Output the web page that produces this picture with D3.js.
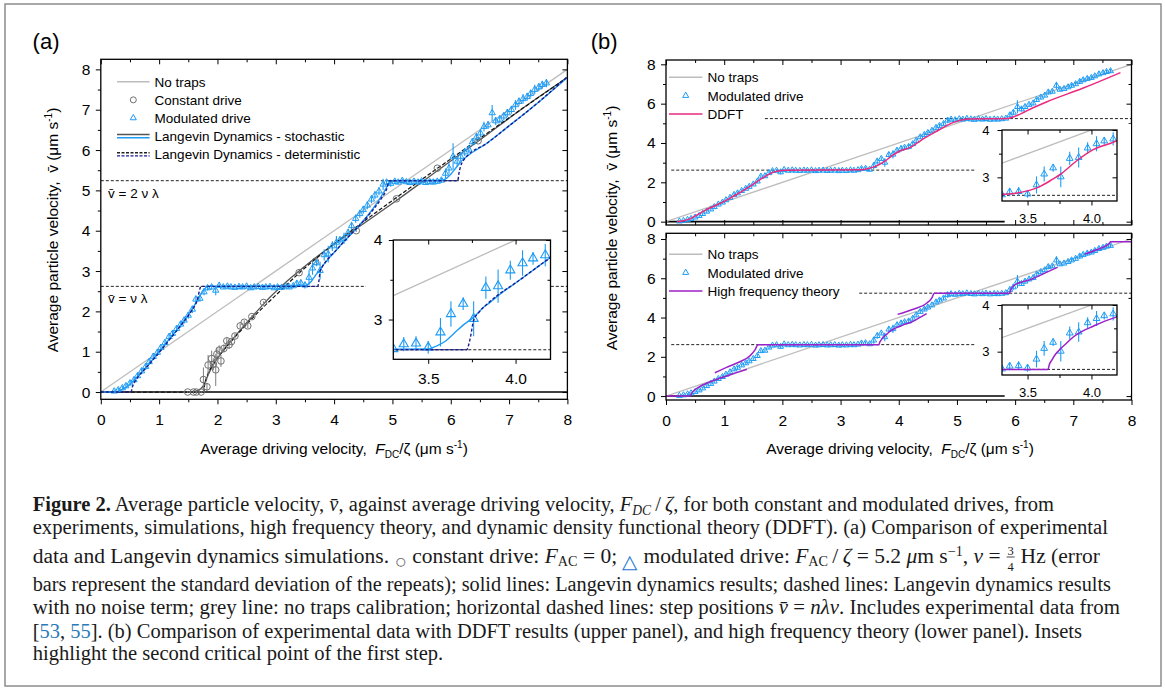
<!DOCTYPE html>
<html>
<head>
<meta charset="utf-8">
<script src="https://cdn.jsdelivr.net/npm/d3@7"></script>
<style>
  html, body { margin: 0; padding: 0; background: #fff; }
  svg { display: block; }
</style>
</head>
<body>
<svg id="fig" width="1165" height="688"></svg>
<script>
// ---- values ----
const ticksX = [0, 1, 2, 3, 4, 5, 6, 7, 8]
const ticksXMinor = [0.5, 1.5, 2.5, 3.5, 4.5, 5.5, 6.5, 7.5]
const ticksYa = [0, 1, 2, 3, 4, 5, 6, 7, 8]
const ticksYaMinor = [0.5, 1.5, 2.5, 3.5, 4.5, 5.5, 6.5, 7.5]
const ticksYb = [0, 2, 4, 6, 8]
const ticksYbMinor = [1, 3, 5, 7]
const insetTicksX = [3.5, 4.0]
const insetTicksXMinor = [3.75]
const insetTicksY = [3, 4]
const insetTicksYMinor = [3.5]

// step positions v = n nu lambda
const stepLevels = [2.62, 5.24]
const stepFromA = [0, 0]
const stepFromUpper = [0.09, 1.70]
const stepFromLower = [0.09, 3.32]
const stepTo = [8, 8]
const zeroToA = 8
const zeroToB = 5.82

// no traps calibration
const noTrapsX = [0, 8]
const noTrapsV = [0, 8]

// constant drive (grey circles)
const constX = [1.49, 1.59, 1.64, 1.72, 1.76, 1.82, 1.84, 1.90, 1.93, 1.97, 1.99, 2.03, 2.06, 2.11, 2.16, 2.20, 2.24, 2.30, 2.39, 2.46, 2.52, 2.59, 2.79, 3.40, 3.68, 4.38, 5.07, 5.77, 6.47]
const constV = [0, 0, 0, 0, 0.31, 0.13, 0.67, 0.83, 0.69, 0.55, 0.94, 1.04, 0.77, 1.08, 1.27, 1.17, 1.25, 1.39, 1.64, 1.73, 1.64, 1.87, 2.22, 2.96, 3.24, 4.00, 4.79, 5.55, 6.23]
const constErr = [0.02, 0.02, 0.02, 0.02, 0.30, 0.10, 0.25, 0.20, 0.15, 0.40, 0.15, 0.12, 0.15, 0.10, 0.08, 0.10, 0.08, 0.06, 0.06, 0.05, 0.06, 0.04, 0.03, 0.03, 0.03, 0.03, 0.03, 0.03, 0.03]

// modulated drive (blue triangles)
const modX = [
  0.23, 0.30, 0.37, 0.43, 0.50, 0.57, 0.63, 0.70, 0.77, 0.83,
  0.90, 0.97, 1.03, 1.10, 1.17, 1.23, 1.30, 1.37, 1.43, 1.50,
  1.57, 1.63, 1.70, 1.77, 1.83, 1.90, 1.97, 2.03, 2.10, 2.17,
  2.23, 2.30, 2.37, 2.43, 2.50, 2.57, 2.63, 2.70, 2.77, 2.83,
  2.90, 2.97, 3.03, 3.10, 3.17, 3.23, 3.30, 3.36, 3.43, 3.50,
  3.57, 3.63, 3.70, 3.76, 3.83, 3.90, 3.97, 4.04, 4.10, 4.17,
  4.24, 4.30, 4.37, 4.44, 4.50, 4.57, 4.64, 4.70, 4.77, 4.84,
  4.90, 4.97, 5.04, 5.10, 5.17, 5.24, 5.30, 5.37, 5.44, 5.50,
  5.57, 5.64, 5.70, 5.77, 5.84, 5.91, 5.97, 6.04, 6.11, 6.17,
  6.24, 6.31, 6.37, 6.44, 6.51, 6.57, 6.64, 6.71, 6.77, 6.84,
  6.91, 6.97, 7.04, 7.11, 7.17, 7.24, 7.31, 7.37, 7.44, 7.51,
  7.57, 7.64]
const modV = [
  0.02, 0.05, 0.10, 0.15, 0.22, 0.30, 0.40, 0.52, 0.63, 0.75,
  0.88, 0.98, 1.10, 1.22, 1.37, 1.45, 1.57, 1.68, 1.78, 1.90,
  2.05, 2.30, 2.32, 2.48, 2.58, 2.60, 2.52, 2.64, 2.60, 2.62,
  2.60, 2.59, 2.61, 2.60, 2.62, 2.58, 2.60, 2.61, 2.59, 2.60,
  2.61, 2.58, 2.60, 2.59, 2.62, 2.60, 2.63, 2.69, 2.70, 2.65,
  2.84, 3.07, 3.20, 3.01, 3.40, 3.42, 3.62, 3.71, 3.77, 3.81,
  3.95, 4.12, 4.30, 4.42, 4.52, 4.63, 4.78, 4.88, 4.98, 5.15,
  5.20, 5.17, 5.22, 5.20, 5.24, 5.21, 5.19, 5.22, 5.20, 5.23,
  5.19, 5.21, 5.20, 5.22, 5.25, 5.42, 5.55, 5.84, 5.72, 5.84,
  5.95, 6.02, 6.20, 6.32, 6.42, 6.58, 6.62, 6.92, 6.72, 6.76,
  6.84, 6.92, 7.00, 7.12, 7.20, 7.27, 7.32, 7.40, 7.50, 7.56,
  7.62, 7.66]
const modErr = [
  0.04, 0.05, 0.05, 0.06, 0.06, 0.07, 0.07, 0.08, 0.08, 0.08,
  0.08, 0.08, 0.08, 0.08, 0.09, 0.08, 0.08, 0.08, 0.08, 0.08,
  0.09, 0.09, 0.08, 0.08, 0.06, 0.06, 0.12, 0.05, 0.04, 0.04,
  0.04, 0.04, 0.04, 0.04, 0.04, 0.04, 0.04, 0.04, 0.04, 0.04,
  0.04, 0.04, 0.04, 0.04, 0.04, 0.04, 0.05, 0.09, 0.09, 0.08,
  0.18, 0.16, 0.08, 0.22, 0.14, 0.21, 0.12, 0.16, 0.08, 0.14,
  0.10, 0.10, 0.10, 0.10, 0.10, 0.10, 0.10, 0.10, 0.10, 0.14,
  0.06, 0.08, 0.05, 0.05, 0.05, 0.05, 0.05, 0.05, 0.05, 0.05,
  0.05, 0.05, 0.05, 0.05, 0.06, 0.12, 0.14, 0.33, 0.12, 0.12,
  0.10, 0.10, 0.10, 0.10, 0.10, 0.12, 0.10, 0.20, 0.10, 0.10,
  0.10, 0.10, 0.10, 0.12, 0.10, 0.12, 0.10, 0.10, 0.12, 0.10,
  0.10, 0.10]

// Langevin dynamics, constant drive
const ldConstX = [0, 1.50, 1.61, 1.68, 1.72, 1.76, 1.80, 1.84, 1.88, 1.94, 2.00, 2.08, 2.17, 2.30, 2.46, 2.60, 2.74, 2.90, 3.08, 3.25, 3.43, 3.70, 4.00, 4.40, 5.10, 5.80, 6.50, 7.20, 8.00]
const ldConstV = [0, 0, 0.02, 0.05, 0.09, 0.16, 0.28, 0.42, 0.55, 0.70, 0.84, 0.99, 1.16, 1.38, 1.65, 1.88, 2.10, 2.35, 2.60, 2.82, 3.04, 3.35, 3.67, 4.07, 4.78, 5.52, 6.25, 7.00, 7.80]
const detConstX = [0, 1.77, 1.78, 1.80, 1.83, 1.87, 1.92, 2.00, 2.10, 2.25, 2.45, 2.70, 3.00, 3.40, 4.00, 5.00, 6.00, 7.00, 8.00]
const detConstV = [0, 0, 0.18, 0.30, 0.43, 0.55, 0.68, 0.85, 1.03, 1.28, 1.60, 1.98, 2.40, 2.95, 3.67, 4.75, 5.78, 6.80, 7.80]

// Langevin dynamics, modulated drive
const ldModX = [0, 0.25, 0.32, 0.40, 0.48, 0.56, 0.65, 0.80, 1.00, 1.20, 1.40, 1.55, 1.65, 1.72, 1.78, 1.85, 3.50, 3.55, 3.60, 3.65, 3.70, 3.76, 3.82, 3.85, 3.90, 4.00, 4.10, 4.20, 4.40, 4.60, 4.75, 4.85, 4.92, 4.98, 5.05, 5.85, 5.92, 6.00, 6.10, 6.20, 6.30, 6.60, 7.00, 7.50, 8.00]
const ldModV = [0, 0, 0.03, 0.09, 0.17, 0.28, 0.42, 0.65, 1.00, 1.36, 1.72, 2.02, 2.26, 2.44, 2.56, 2.62, 2.63, 2.67, 2.73, 2.83, 2.93, 3.03, 3.16, 3.21, 3.30, 3.46, 3.62, 3.78, 4.08, 4.42, 4.72, 4.95, 5.12, 5.21, 5.24, 5.25, 5.29, 5.40, 5.58, 5.75, 5.87, 6.15, 6.60, 7.18, 7.80]
const detModX = [0, 0.52, 0.54, 0.57, 0.62, 0.70, 0.80, 1.00, 1.20, 1.40, 1.55, 1.65, 1.72, 3.72, 3.74, 3.76, 3.79, 3.84, 3.90, 4.00, 4.10, 4.20, 4.40, 4.60, 4.80, 4.90, 4.95, 6.12, 6.14, 6.17, 6.22, 6.30, 6.60, 7.00, 7.50, 8.00]
const detModV = [0, 0, 0.12, 0.22, 0.34, 0.48, 0.64, 0.98, 1.34, 1.70, 2.00, 2.26, 2.62, 2.62, 2.76, 2.99, 3.09, 3.20, 3.31, 3.46, 3.62, 3.78, 4.08, 4.40, 4.78, 5.03, 5.24, 5.24, 5.42, 5.60, 5.75, 5.88, 6.15, 6.60, 7.18, 7.82]

// DDFT
const ddftX = [0.19, 0.30, 0.43, 0.55, 0.68, 0.85, 0.99, 1.15, 1.30, 1.45, 1.61, 1.75, 1.85, 1.95, 2.05, 3.30, 3.42, 3.60, 3.69, 3.77, 3.88, 4.01, 4.21, 4.39, 4.69, 4.90, 5.00, 5.10, 5.19, 5.87, 6.05, 6.30, 6.55, 7.16, 7.81]
const ddftV = [0, 0.05, 0.17, 0.37, 0.59, 0.82, 1.02, 1.28, 1.53, 1.81, 2.12, 2.38, 2.52, 2.59, 2.62, 2.64, 2.67, 2.81, 2.95, 3.09, 3.34, 3.58, 3.79, 4.15, 4.66, 5.00, 5.10, 5.18, 5.22, 5.25, 5.42, 5.78, 6.10, 6.78, 7.58]

// high frequency theory, four branches
const hfAX = [0, 0.41, 0.44, 0.48, 0.53, 0.62, 0.76, 0.90, 1.04, 1.20, 1.39]
const hfAV = [0, 0, 0.14, 0.28, 0.39, 0.55, 0.73, 0.88, 1.02, 1.18, 1.36]
const hfBX = [0.84, 1.04, 1.27, 1.44, 1.53, 1.58, 3.66, 3.67, 3.69, 3.72, 3.75, 3.80, 3.86, 3.93, 4.01, 4.10, 4.21, 4.35, 4.48]
const hfBV = [1.19, 1.46, 1.75, 2.04, 2.35, 2.62, 2.62, 2.72, 2.82, 2.95, 3.04, 3.17, 3.32, 3.44, 3.54, 3.65, 3.76, 3.98, 4.20]
const hfCX = [3.98, 4.25, 4.48, 4.57, 4.61, 5.90, 5.93, 5.99, 6.10, 6.24, 6.50, 6.73]
const hfCV = [4.16, 4.42, 4.73, 5.00, 5.24, 5.24, 5.45, 5.65, 5.80, 5.91, 6.25, 6.56]
const hfDX = [7.20, 7.40, 7.58, 7.62, 7.64, 8.00]
const hfDV = [7.23, 7.45, 7.69, 7.78, 7.86, 7.86]

// ---- layout and style ----
const FONT = '"Liberation Sans", Arial, Helvetica, sans-serif'
const SERIF = '"Liberation Serif", "Times New Roman", serif'
const BLUE = '#1e9cf5'
const NAVY = '#1b1b8f'
const GREY = '#bdbdbd'
const PINK = '#ea2a7f'
const PURPLE = '#9b21c9'
const CIRCLE = '#707070'

const boxA = { left: 100.8, right: 567.4, top: 59.3, bottom: 399.3 }
const boxUpper = { left: 666, right: 1131.5, top: 60, bottom: 225 }
const boxLower = { left: 666, right: 1131.5, top: 233.3, bottom: 400 }
const boxInsetA = { left: 393.3, right: 550.5, top: 240, bottom: 359.3 }
const boxInsetUpper = { left: 1002, right: 1117, top: 130, bottom: 201 }
const boxInsetLower = { left: 1002, right: 1117, top: 305, bottom: 375 }

const svg = d3.select('#fig')
const defs = svg.append('defs')

function makeScales(box, xDomain, yDomain) {
  return {
    x: d3.scaleLinear().domain(xDomain).range([box.left, box.right]),
    y: d3.scaleLinear().domain(yDomain).range([box.bottom, box.top])
  }
}

function clipped(g, id, box) {
  defs.append('clipPath').attr('id', id).append('rect')
    .attr('x', box.left).attr('y', box.top)
    .attr('width', box.right - box.left).attr('height', box.bottom - box.top)
  return g.append('g').attr('clip-path', 'url(#' + id + ')')
}

function drawCurve(g, sc, xs, vs, color, width, dash) {
  g.append('path')
    .datum(d3.zip(xs, vs))
    .attr('d', d3.line().curve(d3.curveMonotoneX).x(d => sc.x(d[0])).y(d => sc.y(d[1])))
    .attr('fill', 'none')
    .attr('stroke', color)
    .attr('stroke-width', width)
    .attr('stroke-dasharray', dash || null)
}

function drawSteps(g, sc, from, to, levels) {
  g.selectAll('.step')
    .data(levels)
    .join('line')
    .attr('class', 'step')
    .attr('x1', (d, i) => sc.x(from[i]))
    .attr('x2', (d, i) => sc.x(to[i]))
    .attr('y1', d => sc.y(d))
    .attr('y2', d => sc.y(d))
    .attr('stroke', '#222')
    .attr('stroke-width', 1)
    .attr('stroke-dasharray', '3,2')
}

function drawZero(g, sc, xEnd) {
  g.append('line')
    .attr('x1', sc.x(0)).attr('x2', sc.x(xEnd))
    .attr('y1', sc.y(0)).attr('y2', sc.y(0))
    .attr('stroke', '#000')
    .attr('stroke-width', 1.6)
}

function drawErrorBars(g, sc, pts, color) {
  g.selectAll('.err')
    .data(pts)
    .join('line')
    .attr('class', 'err')
    .attr('x1', d => sc.x(d[0])).attr('x2', d => sc.x(d[0]))
    .attr('y1', d => sc.y(d[1] - d[2])).attr('y2', d => sc.y(d[1] + d[2]))
    .attr('stroke', color)
    .attr('stroke-width', 1.1)
}

function drawTriangles(g, sc, size) {
  const pts = d3.zip(modX, modV, modErr)
  const grp = g.append('g').attr('class', 'modulated')
  drawErrorBars(grp, sc, pts, BLUE)
  grp.selectAll('.tri')
    .data(pts)
    .join('path')
    .attr('class', 'tri')
    .attr('d', d3.symbol(d3.symbolTriangle, size))
    .attr('transform', d => `translate(${sc.x(d[0])},${sc.y(d[1])})`)
    .attr('fill', 'none')
    .attr('stroke', BLUE)
    .attr('stroke-width', 1)
}

function drawCircles(g, sc, r) {
  const pts = d3.zip(constX, constV, constErr)
  const grp = g.append('g').attr('class', 'constant')
  drawErrorBars(grp, sc, pts, '#8a8a8a')
  grp.selectAll('.dot')
    .data(pts)
    .join('circle')
    .attr('class', 'dot')
    .attr('cx', d => sc.x(d[0]))
    .attr('cy', d => sc.y(d[1]))
    .attr('r', r)
    .attr('fill', 'none')
    .attr('stroke', CIRCLE)
    .attr('stroke-width', 1)
}

function drawAxes(g, sc, box, o) {
  const a = g.append('g').attr('class', 'axes')
  const put = (gen, tr, vals, size, fmt, pad) => {
    const ax = a.append('g').attr('transform', tr)
      .call(gen.tickValues(vals).tickSize(size).tickPadding(pad || 3).tickFormat(fmt || (() => '')))
    ax.attr('font-size', o.fontSize).attr('font-family', FONT)
    ax.select('.domain').remove()
    ax.selectAll('.tick line').attr('stroke', '#000').attr('stroke-width', 1)
    ax.selectAll('.tick text').attr('fill', '#000')
  }
  const bottom = `translate(0,${box.bottom})`
  const top = `translate(0,${box.top})`
  const left = `translate(${box.left},0)`
  const right = `translate(${box.right},0)`
  const dir = o.bottomIn ? -1 : 1
  put(d3.axisBottom(sc.x), bottom, o.xMajor, dir * o.major, o.xFmt, o.xPad)
  put(d3.axisBottom(sc.x), bottom, o.xMinor, dir * o.minor)
  put(d3.axisBottom(sc.x), top, o.xMajor, o.major)
  put(d3.axisBottom(sc.x), top, o.xMinor, o.minor)
  put(d3.axisLeft(sc.y), left, o.yMajor, o.major, o.yFmt, o.yPad)
  put(d3.axisLeft(sc.y), left, o.yMinor, o.minor)
  put(d3.axisLeft(sc.y), right, o.yMajor, o.major)
  put(d3.axisLeft(sc.y), right, o.yMinor, o.minor)
  a.append('rect')
    .attr('x', box.left).attr('y', box.top)
    .attr('width', box.right - box.left).attr('height', box.bottom - box.top)
    .attr('fill', 'none').attr('stroke', '#000').attr('stroke-width', 1.3)
}

function drawLegend(g, items, x0, y0, rowH, textOffset) {
  const lg = g.append('g').attr('class', 'legend').attr('font-family', FONT).attr('font-size', 13.5)
  items.forEach((it, i) => {
    const row = lg.append('g').attr('transform', `translate(${x0},${y0 + i * rowH})`)
    const w = textOffset - 5
    if (it.kind === 'line') {
      row.append('line').attr('x1', 0).attr('x2', w).attr('stroke', it.color).attr('stroke-width', 1.5)
    } else if (it.kind === 'pair') {
      it.colors.forEach((c, k) => {
        row.append('line').attr('x1', 0).attr('x2', w)
          .attr('y1', k * 3.2 - 1.6).attr('y2', k * 3.2 - 1.6)
          .attr('stroke', c).attr('stroke-width', 1.4)
          .attr('stroke-dasharray', it.dash || null)
      })
    } else if (it.kind === 'triangle') {
      row.append('path').attr('d', d3.symbol(d3.symbolTriangle, 16))
        .attr('transform', `translate(${w / 2},0)`)
        .attr('fill', 'none').attr('stroke', BLUE)
    } else if (it.kind === 'circle') {
      row.append('circle').attr('cx', w / 2).attr('r', 3)
        .attr('fill', 'none').attr('stroke', CIRCLE)
    }
    row.append('text').attr('x', textOffset).attr('dy', '0.36em').attr('fill', '#000').text(it.label)
  })
}

function titleX(g, x, y) {
  const t = g.append('text').attr('x', x).attr('y', y)
    .attr('text-anchor', 'middle').attr('font-family', FONT).attr('font-size', 15.5)
  t.append('tspan').text('Average driving velocity,\u00a0\u00a0')
  t.append('tspan').attr('font-style', 'italic').text('F')
  t.append('tspan').attr('font-size', 10).attr('dy', 4).text('DC')
  t.append('tspan').attr('dy', -4).text('/\u03b6 (\u03bcm s')
  t.append('tspan').attr('font-size', 10).attr('dy', -6).text('-1')
  t.append('tspan').attr('dy', 6).text(')')
}

function titleY(g, x, y) {
  const t = g.append('text').attr('transform', `translate(${x},${y}) rotate(-90)`)
    .attr('text-anchor', 'middle').attr('font-family', FONT).attr('font-size', 15.5)
  t.append('tspan').text('Average particle velocity,\u00a0\u00a0v\u0304 (\u03bcm s')
  t.append('tspan').attr('font-size', 10).attr('dy', -6).text('-1')
  t.append('tspan').attr('dy', 6).text(')')
}

function drawInset(parent, box, id, bg, fontSize, o, content) {
  const sc = makeScales(box, [3.3, 4.2], [2.5, 4.0])
  const g = parent.append('g').attr('class', 'inset')
  g.append('rect')
    .attr('x', bg.left).attr('y', bg.top)
    .attr('width', bg.right - bg.left).attr('height', bg.bottom - bg.top)
    .attr('fill', '#fff')
  const c = clipped(g, id, box)
  drawCurve(c, sc, noTrapsX, noTrapsV, GREY, 1.3)
  drawSteps(c, sc, [3.3], [4.2], stepLevels.slice(0, 1))
  content(c, sc)
  drawAxes(g, sc, box, {
    xMajor: insetTicksX, xMinor: insetTicksXMinor, yMajor: insetTicksY, yMinor: insetTicksYMinor,
    major: 4.5, minor: 3, fontSize: fontSize,
    xFmt: d3.format('.1f'), yFmt: d3.format('d'), xPad: o.xPad, yPad: o.yPad
  })
}

function buildPanelA() {
  const sc = makeScales(boxA, [0, 8], [-0.18, 8.25])
  const g = svg.append('g').attr('class', 'panel-a')
  const c = clipped(g, 'clip-a', boxA)

  drawSteps(c, sc, stepFromA, stepTo, stepLevels)
  drawZero(c, sc, zeroToA)
  drawCurve(c, sc, noTrapsX, noTrapsV, GREY, 1.3)
  drawCurve(c, sc, ldConstX, ldConstV, '#555', 1.3)
  drawCurve(c, sc, detConstX, detConstV, '#111', 1.2, '4,2')
  drawCircles(c, sc, 3.3)
  drawTriangles(c, sc, 17)
  drawCurve(c, sc, ldModX, ldModV, BLUE, 1.4)
  drawCurve(c, sc, detModX, detModV, NAVY, 1.4, '3,2')

  // step labels
  const lab = g.append('g').attr('font-family', FONT).attr('font-size', 13.5)
  lab.append('text').attr('x', 108).attr('y', sc.y(stepLevels[1]) + 17).text('v\u0304 = 2 \u03bd \u03bb')
  lab.append('text').attr('x', 108).attr('y', sc.y(stepLevels[0]) + 17).text('v\u0304 = \u03bd \u03bb')

  drawAxes(g, sc, boxA, {
    xMajor: ticksX, xMinor: ticksXMinor, yMajor: ticksYa, yMinor: ticksYaMinor,
    major: 5, minor: 3, fontSize: 15.5, xFmt: d3.format('d'), yFmt: d3.format('d'), xPad: 9.5, yPad: 5.5
  })

  drawLegend(g, [
    { kind: 'line', color: GREY, label: 'No traps' },
    { kind: 'circle', label: 'Constant drive' },
    { kind: 'triangle', label: 'Modulated drive' },
    { kind: 'pair', colors: ['#555', BLUE], label: 'Langevin Dynamics - stochastic' },
    { kind: 'pair', colors: ['#222', NAVY], dash: '3,1.5', label: 'Langevin Dynamics - deterministic' }
  ], 117, 81.7, 18.15, 37.6)

  drawInset(g, boxInsetA, 'clip-inset-a', { left: 366, right: 551, top: 232, bottom: 386 }, 15.5,
    { xPad: 9, yPad: 6.5 },
    (ic, isc) => {
      const pts = d3.zip(modX, modV, modErr)
      const grp = ic.append('g')
      drawErrorBars(grp, isc, pts, BLUE)
      grp.selectAll('.tri').data(pts).join('path')
        .attr('d', d3.symbol(d3.symbolTriangle, 36))
        .attr('transform', d => `translate(${isc.x(d[0])},${isc.y(d[1])})`)
        .attr('fill', 'none').attr('stroke', BLUE).attr('stroke-width', 1.1)
      drawCurve(ic, isc, ldModX, ldModV, BLUE, 1.4)
      drawCurve(ic, isc, detModX, detModV, NAVY, 1.4, '3,2')
    })

  titleX(g, 334, 454)
  titleY(g, 58, 230)
  g.append('text').attr('x', 32.6).attr('y', 49).attr('font-family', FONT).attr('font-size', 22).text('(a)')
}

function buildPanelB(box, yDomain, id, stepFrom, theory, legendItems, legendY, insetBox, insetBg, showXLabels) {
  const sc = makeScales(box, [0, 8], yDomain)
  const g = svg.append('g').attr('class', 'panel-b')
  const c = clipped(g, id, box)

  drawSteps(c, sc, stepFrom, stepTo, stepLevels)
  drawZero(c, sc, zeroToB)
  drawCurve(c, sc, noTrapsX, noTrapsV, GREY, 1.3)
  drawTriangles(c, sc, 15)
  theory(c, sc)

  drawAxes(g, sc, box, {
    xMajor: ticksX, xMinor: ticksXMinor, yMajor: ticksYb, yMinor: ticksYbMinor,
    major: 5, minor: 3, fontSize: 15.5, bottomIn: !showXLabels,
    xFmt: showXLabels ? d3.format('d') : null, yFmt: d3.format('d'), xPad: 10, yPad: 5.5
  })

  drawLegend(g, legendItems, 669, legendY, 18.35, 38.4)

  drawInset(g, insetBox, id + '-inset', insetBg, 13, { xPad: 8.5, yPad: 8 }, (ic, isc) => {
    const pts = d3.zip(modX, modV, modErr)
    const grp = ic.append('g')
    drawErrorBars(grp, isc, pts, BLUE)
    grp.selectAll('.tri').data(pts).join('path')
      .attr('d', d3.symbol(d3.symbolTriangle, 20))
      .attr('transform', d => `translate(${isc.x(d[0])},${isc.y(d[1])})`)
      .attr('fill', 'none').attr('stroke', BLUE).attr('stroke-width', 1)
    theory(ic, isc)
  })
}

function buildCaption() {
  const size = 20.5
  const x0 = 32.7
  const base = [511, 533.5, 562.5, 591, 614, 638, 660]
  const ends = [1054, 1108, 1100, 1111, 1120, 1082, null]
  const g = svg.append('g').attr('class', 'caption')
    .attr('font-family', SERIF).attr('font-size', size).attr('fill', '#1a1a1a')

  const appendRuns = (t, runs) => {
    let shift = 0
    runs.forEach(r => {
      const s = t.append('tspan').text(r.t)
      if (r.b) s.attr('font-weight', 'bold')
      if (r.i) s.attr('font-style', 'italic')
      if (r.c) s.attr('fill', r.c)
      if (r.sub || r.sup) s.attr('font-size', size * 0.66)
      if (r.sym) s.attr('font-size', size * 0.95)
      const want = r.sub ? 3.5 : r.sup ? -7 : r.sym ? 5 : 0
      if (want !== shift) { s.attr('dy', want - shift); shift = want }
    })
  }

  const lines = [
    [{ t: 'Figure 2.', b: true }, { t: ' Average particle velocity, ' }, { t: 'v\u0304', i: true },
      { t: ', against average driving velocity, ' }, { t: 'F', i: true }, { t: 'DC', i: true, sub: true },
      { t: '\u2009/\u2009' }, { t: '\u03b6', i: true }, { t: ', for both constant and modulated drives, from' }],
    [{ t: 'experiments, simulations, high frequency theory, and dynamic density functional theory (DDFT). (a) Comparison of experimental' }],
    null,
    [{ t: 'bars represent the standard deviation of the repeats); solid lines: Langevin dynamics results; dashed lines: Langevin dynamics results' }],
    [{ t: 'with no noise term; grey line: no traps calibration; horizontal dashed lines: step positions ' }, { t: 'v\u0304', i: true },
      { t: ' = ' }, { t: 'n\u03bb\u03bd', i: true }, { t: '. Includes experimental data from' }],
    [{ t: '[' }, { t: '53', c: '#2a7ab8' }, { t: ', ' }, { t: '55', c: '#2a7ab8' },
      { t: ']. (b) Comparison of experimental data with DDFT results (upper panel), and high frequency theory (lower panel). Insets' }],
    [{ t: 'highlight the second critical point of the first step.' }]
  ]

  const ratios = []
  lines.forEach((runs, i) => {
    if (!runs || ends[i] === null) return
    const t = g.append('text').attr('x', x0).attr('y', base[i])
    appendRuns(t, runs)
    const nat = t.node().getComputedTextLength()
    ratios.push((ends[i] - x0) / nat)
    t.attr('textLength', ends[i] - x0).attr('lengthAdjust', 'spacingAndGlyphs')
  })

  // line 3 with the stacked fraction
  const runsA = [{ t: 'data and Langevin dynamics simulations. ' }, { t: '\u25cb', c: '#666', sym: true },
    { t: ' constant drive: ' }, { t: 'F', i: true }, { t: 'AC', sub: true }, { t: ' = 0; ' },
    { t: '\u25b3', c: '#1d76d2', sym: true }, { t: ' modulated drive: ' }, { t: 'F', i: true }, { t: 'AC', sub: true },
    { t: '\u2009/\u2009' }, { t: '\u03b6', i: true }, { t: ' = 5.2 ' }, { t: '\u03bc', i: true }, { t: 'm s' },
    { t: '\u22121', sup: true }, { t: ', ' }, { t: '\u03bd', i: true }, { t: ' =' }]
  const runsB = [{ t: 'Hz (error' }]
  const tA = g.append('text').attr('x', x0).attr('y', base[2])
  appendRuns(tA, runsA)
  const tB = g.append('text').attr('y', base[2])
  appendRuns(tB, runsB)
  const fracW = 20
  const nA = tA.node().getComputedTextLength()
  const nB = tB.node().getComputedTextLength()
  const r = (ends[2] - x0 - fracW) / (nA + nB)
  tA.attr('textLength', nA * r).attr('lengthAdjust', 'spacingAndGlyphs')
  const fx = x0 + nA * r + fracW / 2
  tB.attr('x', x0 + nA * r + fracW).attr('textLength', nB * r).attr('lengthAdjust', 'spacingAndGlyphs')
  g.append('text').attr('x', fx).attr('y', base[2] - 8).attr('text-anchor', 'middle').attr('font-size', 12.5).text('3')
  g.append('text').attr('x', fx).attr('y', base[2] + 8).attr('text-anchor', 'middle').attr('font-size', 12.5).text('4')
  g.append('line').attr('x1', fx - 4).attr('x2', fx + 4).attr('y1', base[2] - 5.5).attr('y2', base[2] - 5.5)
    .attr('stroke', '#1a1a1a').attr('stroke-width', 0.8)

  // last line keeps the average squeeze of the others
  const tl = g.append('text').attr('x', x0).attr('y', base[6])
  appendRuns(tl, lines[6])
  const avg = d3.mean(ratios)
  tl.attr('textLength', tl.node().getComputedTextLength() * avg).attr('lengthAdjust', 'spacingAndGlyphs')
}

// page frame
svg.append('rect')
  .attr('x', 5).attr('y', 4).attr('width', 1156).attr('height', 682)
  .attr('fill', 'none').attr('stroke', '#8c8c8c').attr('stroke-width', 1.5)

buildPanelA()

buildPanelB(boxUpper, [-0.17, 8.22], 'clip-bu', stepFromUpper,
  (g, sc) => drawCurve(g, sc, ddftX, ddftV, PINK, 1.5),
  [
    { kind: 'line', color: GREY, label: 'No traps' },
    { kind: 'triangle', label: 'Modulated drive' },
    { kind: 'line', color: PINK, label: 'DDFT' }
  ], 77.3, boxInsetUpper, { left: 976, right: 1131, top: 124, bottom: 219.5 }, false)

buildPanelB(boxLower, [-0.2, 8.29], 'clip-bl', stepFromLower,
  (g, sc) => {
    drawCurve(g, sc, hfAX, hfAV, PURPLE, 1.5)
    drawCurve(g, sc, hfBX, hfBV, PURPLE, 1.5)
    drawCurve(g, sc, hfCX, hfCV, PURPLE, 1.5)
    drawCurve(g, sc, hfDX, hfDV, PURPLE, 1.5)
  },
  [
    { kind: 'line', color: GREY, label: 'No traps' },
    { kind: 'triangle', label: 'Modulated drive' },
    { kind: 'line', color: PURPLE, label: 'High frequency theory' }
  ], 254.3, boxInsetLower, { left: 976, right: 1131, top: 299, bottom: 394 }, true)

const bt = svg.append('g')
titleX(bt, 900, 454)
titleY(bt, 617, 228)
bt.append('text').attr('x', 590.8).attr('y', 49).attr('font-family', FONT).attr('font-size', 22).text('(b)')

buildCaption()
</script>
</body>
</html>
